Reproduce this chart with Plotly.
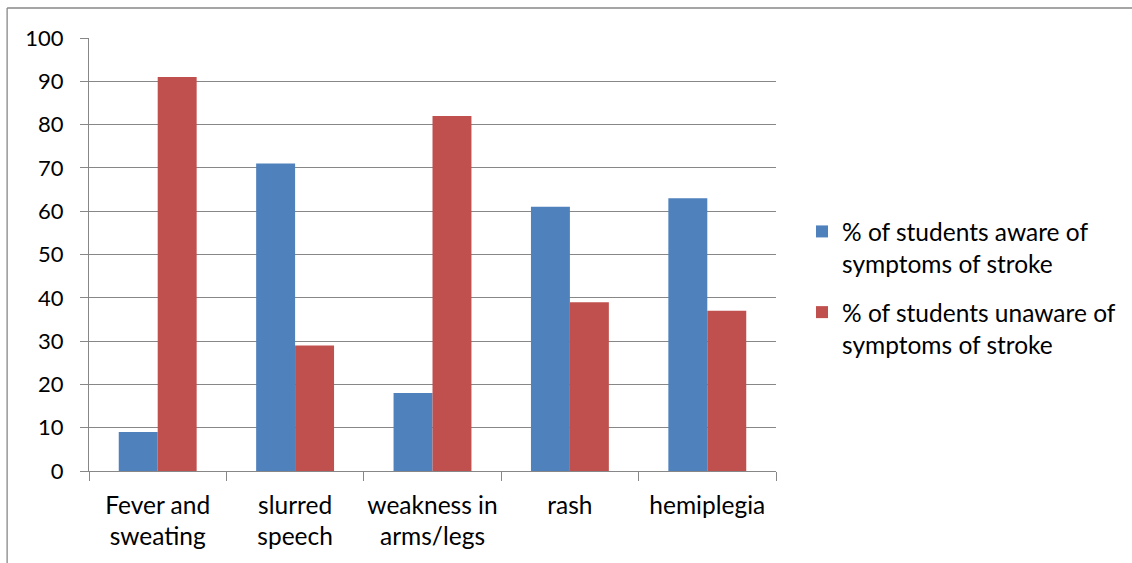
import plotly.graph_objects as go

categories = ["Fever and<br>sweating", "slurred<br>speech", "weakness in<br>arms/legs", "rash", "hemiplegia"]
aware = [9, 71, 18, 61, 63]
unaware = [91, 29, 82, 39, 37]
series_names = ["% of students aware of<br>symptoms of stroke", "% of students unaware of<br>symptoms of stroke"]
y_ticks = [0, 10, 20, 30, 40, 50, 60, 70, 80, 90, 100]

FONT = "Lato, 'Open Sans', sans-serif"
GRAY = "#878787"

fig = go.Figure()
fig.add_trace(go.Bar(x=categories, y=aware, name=series_names[0], legendgroup="a",
                     marker=dict(color="#4F81BD", line=dict(width=0))))
fig.add_trace(go.Bar(x=categories, y=unaware, name=series_names[1], legendgroup="b",
                     marker=dict(color="#C0504D", line=dict(width=0))))

W, H = 1132, 563
L, R, T, B = 89, 777, 38, 471
pw, ph = R - L, B - T

fig.update_layout(
    width=W, height=H,
    margin=dict(l=L, r=W - R, t=T, b=H - B, pad=0),
    plot_bgcolor="white", paper_bgcolor="white",
    barmode="group", bargap=0.433, bargroupgap=0,
    font=dict(family=FONT, size=24, color="#000000"),
    xaxis=dict(
        tickson="boundaries", ticks="outside", ticklen=9, tickcolor=GRAY, tickwidth=1.3,
        showline=True, linecolor=GRAY, linewidth=1.3, tickangle=0, automargin=False,
        showgrid=False, tickfont=dict(size=24.5, family=FONT), ticklabelstandoff=12,
    ),
    yaxis=dict(
        range=[0, 100], tickvals=y_ticks, ticktext=[str(v) for v in y_ticks],
        ticks="outside", ticklen=8, tickcolor=GRAY, tickwidth=1.3, automargin=False,
        showline=True, linecolor=GRAY, linewidth=1.3,
        showgrid=True, gridcolor=GRAY, gridwidth=1.3,
        zeroline=False, tickfont=dict(size=22, family=FONT),
        ticklabelstandoff=12,
    ),
    legend=dict(
        x=(802 - L) / pw, y=(B - 288) / ph, xanchor="left", yanchor="middle",
        font=dict(size=24.5, family=FONT), valign="top", tracegroupgap=14,
        itemwidth=30, bgcolor="rgba(0,0,0,0)",
    ),
    showlegend=True,
)

# chart area border (top and left edges visible)
fig.add_shape(type="line", xref="paper", yref="paper",
              x0=(7 - L) / pw, x1=(W + 5 - L) / pw, y0=(B - 8) / ph, y1=(B - 8) / ph,
              line=dict(color=GRAY, width=1.3))
fig.add_shape(type="line", xref="paper", yref="paper",
              x0=(7 - L) / pw, x1=(7 - L) / pw, y0=(B - 8) / ph, y1=(B - H - 5) / ph,
              line=dict(color=GRAY, width=1.3))

fig.write_html("out.html", config={"displayModeBar": False},
               post_script="document.body.style.margin='0';")
